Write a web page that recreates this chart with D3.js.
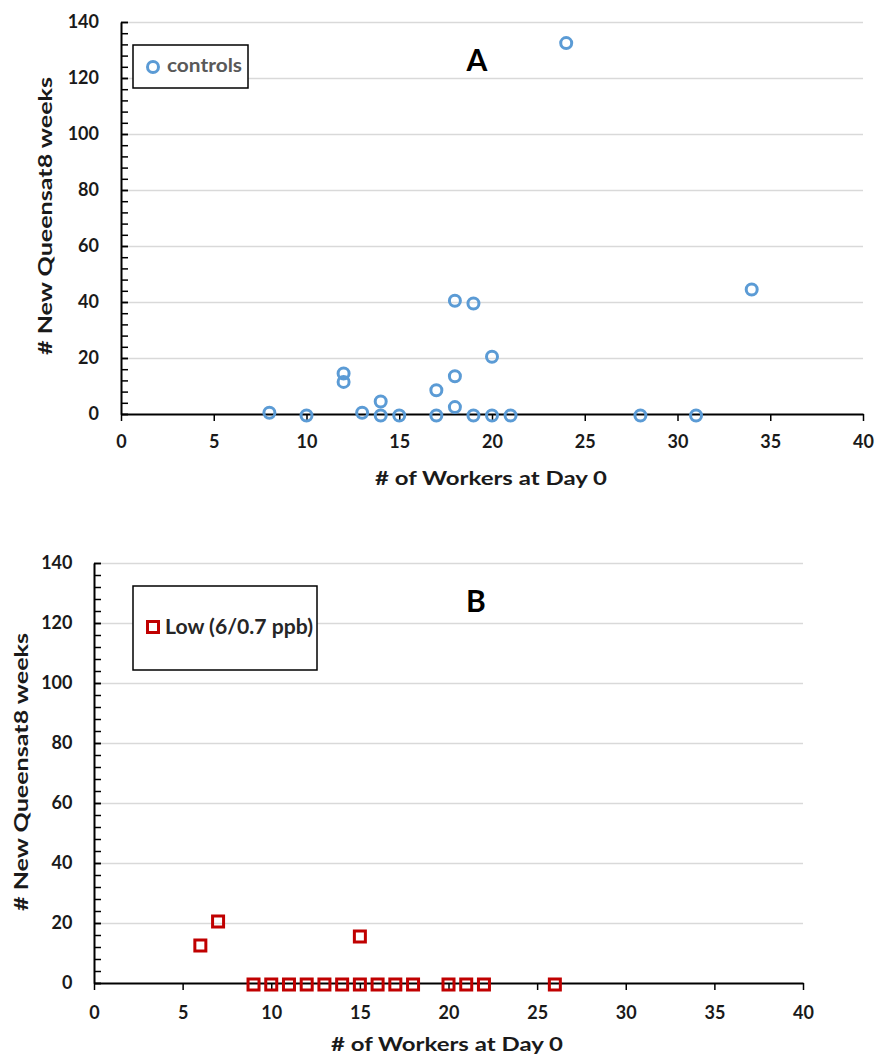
<!DOCTYPE html>
<html>
<head>
<meta charset="utf-8">
<script src="https://cdn.jsdelivr.net/npm/d3@7"></script>
<style>
  body { margin: 0; background: #fff; }
  text { font-family: Lato, "Open Sans", sans-serif; font-weight: bold; }
</style>
</head>
<body>
<svg id="chart" width="875" height="1057"></svg>
<script>
// Panel A: controls
const controlsX = [8, 10, 12, 12, 13, 14, 14, 15, 17, 17, 18, 18, 18, 19, 19, 20, 20, 21, 24, 28, 31, 34];
const controlsY = [1, 0, 15, 12, 1, 5, 0, 0, 0, 9, 41, 14, 3, 40, 0, 21, 0, 0, 133, 0, 0, 45];

// Panel B: low dose
const lowX = [6, 7, 15, 9, 10, 11, 12, 13, 14, 15, 16, 17, 18, 20, 21, 22, 26];
const lowY = [13, 21, 16, 0, 0, 0, 0, 0, 0, 0, 0, 0, 0, 0, 0, 0, 0];

const xTicks = [0, 5, 10, 15, 20, 25, 30, 35, 40];
const yTicks = [0, 20, 40, 60, 80, 100, 120, 140];
const yMinorTicks = d3.range(0, 141, 4);

const xLabel = "# of Workers at Day 0";
const yLabel = "# New Queensat8 weeks";

const svg = d3.select("#chart");

function drawPanel(cfg) {
  const g = svg.append("g");

  const x = d3.scaleLinear().domain([0, 40]).range([cfg.left, cfg.right]);
  const y = d3.scaleLinear().domain([0, 140]).range([cfg.bottom, cfg.top]);

  // gridlines
  g.append("g")
    .attr("transform", `translate(${cfg.left},0)`)
    .call(d3.axisLeft(y).tickValues(yTicks.slice(1)).tickSize(-(cfg.right - cfg.left)).tickFormat(""))
    .call(a => a.select(".domain").remove())
    .selectAll("line").attr("stroke", "#d9d9d9").attr("stroke-width", 1.5);

  // minor ticks, inside
  g.append("g")
    .attr("transform", `translate(${cfg.left},0)`)
    .call(d3.axisLeft(y).tickValues(yMinorTicks).tickSize(-7).tickFormat(""))
    .call(a => a.select(".domain").remove())
    .selectAll("line").attr("stroke", "#000").attr("stroke-width", 1.5);

  // y axis with labels
  const yAxis = g.append("g")
    .attr("transform", `translate(${cfg.left},0)`)
    .call(d3.axisLeft(y).tickValues(yTicks).tickSize(-7).tickSizeOuter(0).tickPadding(cfg.yPad));
  yAxis.select(".domain").attr("stroke", "#000").attr("stroke-width", 2);
  yAxis.selectAll("line").attr("stroke", "#000").attr("stroke-width", 1.5);
  yAxis.selectAll("text").attr("font-size", 18).attr("fill", "#1a1a1a")
    .attr("font-family", "Lato, sans-serif").attr("font-weight", "bold");

  // x axis
  const xAxis = g.append("g")
    .attr("transform", `translate(0,${cfg.bottom})`)
    .call(d3.axisBottom(x).tickValues(xTicks).tickSize(7).tickSizeOuter(0));
  xAxis.select(".domain").attr("stroke", "#000").attr("stroke-width", 2);
  xAxis.selectAll("line").attr("stroke", "#000").attr("stroke-width", 1.5);
  xAxis.selectAll("text").attr("font-size", 18).attr("fill", "#1a1a1a")
    .attr("font-family", "Lato, sans-serif").attr("font-weight", "bold")
    .attr("y", cfg.xLabelBase).attr("dy", null);

  // axis titles
  g.append("text")
    .attr("x", cfg.xTitle[0]).attr("y", cfg.xTitle[1])
    .attr("text-anchor", "middle")
    .attr("font-size", 19).attr("fill", "#1a1a1a")
    .attr("textLength", 232).attr("lengthAdjust", "spacingAndGlyphs")
    .text(xLabel);

  g.append("text")
    .attr("transform", `translate(${cfg.yTitle[0]},${cfg.yTitle[1]}) rotate(-90)`)
    .attr("text-anchor", "middle")
    .attr("font-size", 19).attr("fill", "#1a1a1a")
    .attr("textLength", 278).attr("lengthAdjust", "spacingAndGlyphs")
    .text(yLabel);

  // panel letter
  g.append("text")
    .attr("x", cfg.letterPos[0]).attr("y", cfg.letterPos[1])
    .attr("text-anchor", "middle")
    .attr("font-size", 30).attr("fill", "#000")
    .text(cfg.letter);

  // legend box
  const lb = cfg.legendBox;
  g.append("rect")
    .attr("x", lb[0]).attr("y", lb[1]).attr("width", lb[2]).attr("height", lb[3])
    .attr("fill", "#fff").attr("stroke", "#000").attr("stroke-width", 1.5);

  const data = cfg.xs.map((d, i) => ({ x: d, y: cfg.ys[i] }));

  if (cfg.shape === "circle") {
    g.selectAll("circle.pt")
      .data(data)
      .join("circle")
        .attr("class", "pt")
        .attr("cx", d => x(d.x))
        .attr("cy", d => y(d.y) + 1.5)
        .attr("r", 5.5)
        .attr("fill", "none")
        .attr("stroke", cfg.color)
        .attr("stroke-width", 3);
    g.append("circle")
      .attr("cx", cfg.legendMark[0]).attr("cy", cfg.legendMark[1]).attr("r", 5.5)
      .attr("fill", "none").attr("stroke", cfg.color).attr("stroke-width", 3);
  } else {
    const s = 11;
    g.selectAll("rect.pt")
      .data(data)
      .join("rect")
        .attr("class", "pt")
        .attr("x", d => x(d.x) - s / 2)
        .attr("y", d => y(d.y) - s / 2 + 1.5)
        .attr("width", s).attr("height", s)
        .attr("fill", "none")
        .attr("stroke", cfg.color)
        .attr("stroke-width", 3);
    g.append("rect")
      .attr("x", cfg.legendMark[0] - s / 2).attr("y", cfg.legendMark[1] - s / 2)
      .attr("width", s).attr("height", s)
      .attr("fill", "none").attr("stroke", cfg.color).attr("stroke-width", 3);
  }

  g.append("text")
    .attr("x", cfg.legendText[0]).attr("y", cfg.legendText[1])
    .attr("font-size", cfg.legendFont).attr("fill", cfg.legendColor)
    .attr("textLength", cfg.legendLen).attr("lengthAdjust", "spacingAndGlyphs")
    .text(cfg.legendLabel);
}

drawPanel({
  left: 121, right: 863, top: 22, bottom: 414,
  yPad: 22, xLabelBase: 34,
  xTitle: [491, 485], yTitle: [52, 216],
  letter: "A", letterPos: [477, 71],
  legendBox: [133, 45, 115, 43], legendMark: [153, 67], legendText: [167, 72],
  legendLabel: "controls", legendFont: 18, legendLen: 75, legendColor: "#595959",
  xs: controlsX, ys: controlsY, shape: "circle", color: "#5b9bd5"
});

drawPanel({
  left: 94, right: 803, top: 563, bottom: 983,
  yPad: 21.5, xLabelBase: 36,
  xTitle: [447, 1051], yTitle: [28, 772],
  letter: "B", letterPos: [476, 612],
  legendBox: [133, 586, 184, 84], legendMark: [153, 627], legendText: [165, 634],
  legendLabel: "Low (6/0.7 ppb)", legendFont: 20, legendLen: 148, legendColor: "#262626",
  xs: lowX, ys: lowY, shape: "square", color: "#c00000"
});
</script>
</body>
</html>
